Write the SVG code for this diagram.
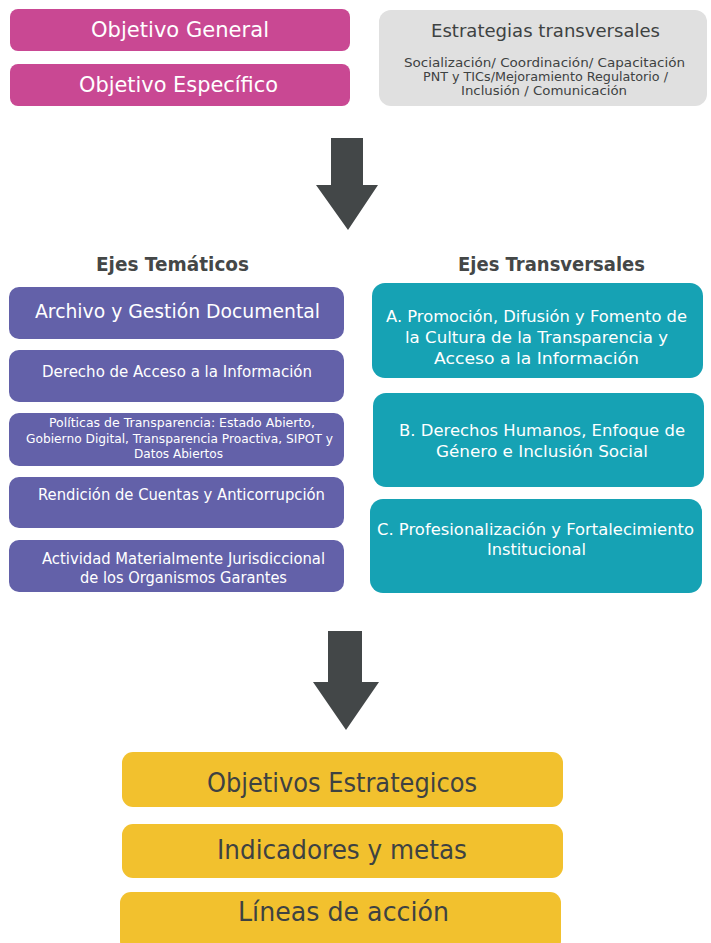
<svg xmlns="http://www.w3.org/2000/svg" width="711" height="943" viewBox="0 0 711 943">
<style>
text{font-family:"DejaVu Sans","Liberation Sans",sans-serif;text-anchor:middle}
.w{fill:#ffffff}
.d{fill:#3e4242}
.h{fill:#444747;font-weight:bold;font-size:20px}
.mag{fill:#c94893}
.gry{fill:#e0e0e0}
.pur{fill:#6361a9}
.teal{fill:#16a2b4}
.yel{fill:#f2c12e}
.arr{fill:#434748}
</style>
<rect width="711" height="943" fill="#ffffff"/>
<g id="objetivo-general">
<rect class="mag" x="10" y="9" width="340" height="42" rx="8"/>
<text class="w" x="180" y="37" font-size="21" textLength="178" lengthAdjust="spacingAndGlyphs">Objetivo General</text>
</g>
<g id="objetivo-especifico">
<rect class="mag" x="10" y="64" width="340" height="42" rx="8"/>
<text class="w" x="178.5" y="92" font-size="21" textLength="199" lengthAdjust="spacingAndGlyphs">Objetivo Específico</text>
</g>
<g id="estrategias-transversales">
<rect class="gry" x="379" y="10" width="328" height="96" rx="12"/>
<text class="d" x="545.5" y="37" font-size="18" textLength="229" lengthAdjust="spacingAndGlyphs">Estrategias transversales</text>
<text class="d" x="544.5" y="67" font-size="12.5" textLength="281" lengthAdjust="spacingAndGlyphs">Socialización/ Coordinación/ Capacitación</text>
<text class="d" x="545.5" y="81" font-size="12.5" textLength="245" lengthAdjust="spacingAndGlyphs">PNT y TICs/Mejoramiento Regulatorio /</text>
<text class="d" x="544" y="95" font-size="12.5" textLength="166" lengthAdjust="spacingAndGlyphs">Inclusión / Comunicación</text>
</g>
<g id="connectors">
<polygon class="arr" points="331,138 363,138 363,185 378,185 348,230 316,185 331,185"/>
<polygon class="arr" points="328,631 362,631 362,682 379,682 346,730 313,682 328,682"/>
</g>
<g id="ejes-tematicos-title">
<text class="h" x="172.5" y="271" textLength="153" lengthAdjust="spacingAndGlyphs">Ejes Temáticos</text>
</g>
<g id="ejes-transversales-title">
<text class="h" x="551.5" y="271" textLength="187" lengthAdjust="spacingAndGlyphs">Ejes Transversales</text>
</g>
<g id="archivo">
<rect class="pur" x="9" y="287" width="335" height="52" rx="10"/>
<text class="w" x="177.5" y="318" font-size="19" textLength="285" lengthAdjust="spacingAndGlyphs">Archivo y Gestión Documental</text>
</g>
<g id="derecho-acceso">
<rect class="pur" x="9" y="350" width="335" height="52" rx="10"/>
<text class="w" x="177" y="377" font-size="15" textLength="270" lengthAdjust="spacingAndGlyphs">Derecho de Acceso a la Información</text>
</g>
<g id="politicas">
<rect class="pur" x="9" y="413" width="335" height="53" rx="10"/>
<text class="w" x="182" y="427" font-size="12" textLength="266" lengthAdjust="spacingAndGlyphs">Políticas de Transparencia: Estado Abierto,</text>
<text class="w" x="179.5" y="443" font-size="12" textLength="307" lengthAdjust="spacingAndGlyphs">Gobierno Digital, Transparencia Proactiva, SIPOT y</text>
<text class="w" x="178.5" y="458" font-size="12" textLength="89" lengthAdjust="spacingAndGlyphs">Datos Abiertos</text>
</g>
<g id="rendicion">
<rect class="pur" x="9" y="477" width="335" height="51" rx="10"/>
<text class="w" x="181.5" y="500" font-size="15" textLength="287" lengthAdjust="spacingAndGlyphs">Rendición de Cuentas y Anticorrupción</text>
</g>
<g id="actividad">
<rect class="pur" x="9" y="540" width="335" height="52" rx="10"/>
<text class="w" x="183.5" y="564" font-size="15" textLength="283" lengthAdjust="spacingAndGlyphs">Actividad Materialmente Jurisdiccional</text>
<text class="w" x="183.5" y="583" font-size="15" textLength="207" lengthAdjust="spacingAndGlyphs">de los Organismos Garantes</text>
</g>
<g id="eje-a">
<rect class="teal" x="372" y="283" width="331" height="95" rx="13"/>
<text class="w" x="536.5" y="322" font-size="16.5" textLength="301" lengthAdjust="spacingAndGlyphs">A. Promoción, Difusión y Fomento de</text>
<text class="w" x="536.5" y="343" font-size="16.5" textLength="263" lengthAdjust="spacingAndGlyphs">la Cultura de la Transparencia y</text>
<text class="w" x="536.5" y="364" font-size="16.5" textLength="205" lengthAdjust="spacingAndGlyphs">Acceso a la Información</text>
</g>
<g id="eje-b">
<rect class="teal" x="373" y="393" width="331" height="94" rx="13"/>
<text class="w" x="542" y="436" font-size="16.5" textLength="286" lengthAdjust="spacingAndGlyphs">B. Derechos Humanos, Enfoque de</text>
<text class="w" x="542" y="457" font-size="16.5" textLength="212" lengthAdjust="spacingAndGlyphs">Género e Inclusión Social</text>
</g>
<g id="eje-c">
<rect class="teal" x="370" y="499" width="332" height="94" rx="13"/>
<text class="w" x="535.5" y="535" font-size="16.5" textLength="317" lengthAdjust="spacingAndGlyphs">C. Profesionalización y Fortalecimiento</text>
<text class="w" x="536.5" y="555" font-size="16.5" textLength="99" lengthAdjust="spacingAndGlyphs">Institucional</text>
</g>
<g id="objetivos-estrategicos">
<rect class="yel" x="122" y="752" width="441" height="55" rx="11"/>
<text class="d" x="342" y="792" font-size="26" textLength="270" lengthAdjust="spacingAndGlyphs">Objetivos Estrategicos</text>
</g>
<g id="indicadores">
<rect class="yel" x="122" y="824" width="441" height="54" rx="11"/>
<text class="d" x="342" y="859" font-size="26" textLength="250" lengthAdjust="spacingAndGlyphs">Indicadores y metas</text>
</g>
<g id="lineas-accion">
<rect class="yel" x="120" y="892" width="441" height="60" rx="11"/>
<text class="d" x="343.5" y="921" font-size="26" textLength="211" lengthAdjust="spacingAndGlyphs">Líneas de acción</text>
</g>
</svg>
